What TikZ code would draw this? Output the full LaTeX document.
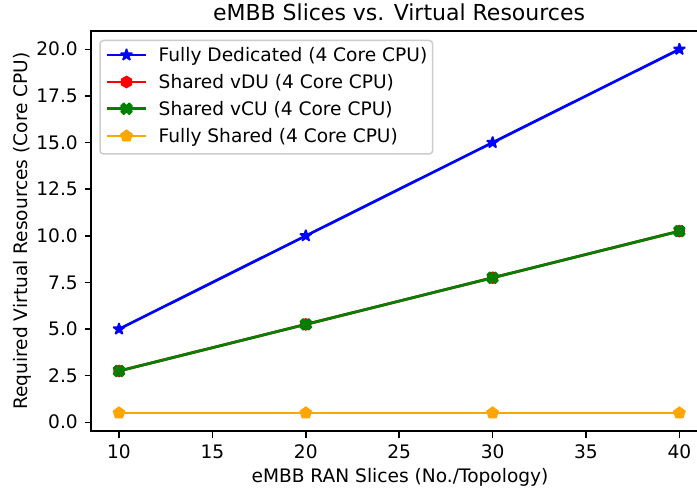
\documentclass[tikz,border=0pt]{standalone}
\usepackage{fontspec}
\setmainfont{DejaVu Sans}
\usetikzlibrary{shapes.geometric}
\definecolor{mblue}{RGB}{0,0,255}
\definecolor{mred}{RGB}{255,0,0}
\definecolor{mgreen}{RGB}{0,128,0}
\definecolor{morange}{RGB}{255,165,0}
\definecolor{legedge}{RGB}{204,204,204}
\tikzset{
  lbl/.style={font=\fontsize{18.6pt}{22pt}\selectfont, inner sep=0pt, text=black},
  ttl/.style={font=\fontsize{22pt}{26pt}\selectfont, inner sep=0pt, text=black},
  spine/.style={line width=1.46pt, black},
  tickmark/.style={line width=1.46pt, black},
  series/.style={line width=2.75pt},
  starmk/.style={star, star points=5, star point ratio=2.618, minimum size=12pt, inner sep=0pt, line width=1.6pt, line join=bevel},
  hexmk/.style={regular polygon, regular polygon sides=6, shape border rotate=30, minimum size=11pt, inner sep=0pt, line width=1.6pt},
  pentmk/.style={regular polygon, regular polygon sides=5, minimum size=11.5pt, inner sep=0pt, line width=1.6pt},
  xmk/.pic={\filldraw[line width=1.6pt, line join=round]
     (-2.75pt,-5.5pt) -- (0pt,-2.75pt) -- (2.75pt,-5.5pt) -- (5.5pt,-2.75pt) -- (2.75pt,0pt) -- (5.5pt,2.75pt) -- (2.75pt,5.5pt) -- (0pt,2.75pt) -- (-2.75pt,5.5pt) -- (-5.5pt,2.75pt) -- (-2.75pt,0pt) -- (-5.5pt,-2.75pt) -- cycle;},
  legframe/.style={draw=legedge, fill=white, fill opacity=0.8, draw opacity=1, line width=1.5pt, rounded corners=3.5pt}
}
\begin{document}
\begin{tikzpicture}[x=1pt,y=1pt]
\useasboundingbox (0,0) rectangle (697,490);
\begin{scope}
\clip (0,0) rectangle (697,490);
\begin{scope}[shift={(-67.8pt,67.7pt)}, x=18.68pt, y=18.65pt]
  % data coordinates
  \coordinate (fd1) at (10,5);   \coordinate (fd2) at (20,10);
  \coordinate (fd3) at (30,15);  \coordinate (fd4) at (40,20);
  \coordinate (du1) at (10,2.75); \coordinate (du2) at (20,5.25);
  \coordinate (du3) at (30,7.75); \coordinate (du4) at (40,10.25);
  \coordinate (fs1) at (10,0.5); \coordinate (fs2) at (20,0.5);
  \coordinate (fs3) at (30,0.5); \coordinate (fs4) at (40,0.5);
  % Fully dedicated
  \draw[series, mblue] (fd1) -- (fd2) -- (fd3) -- (fd4);
  \foreach \i in {1,...,4} \node[starmk, fill=mblue, draw=mblue] (sfd\i) at (fd\i) {};
  % Shared vDU
  \draw[series, mred] (du1) -- (du2) -- (du3) -- (du4);
  \foreach \i in {1,...,4} \node[hexmk, fill=mred, draw=mred] (sdu\i) at (du\i) {};
  % Shared vCU
  \draw[series, mgreen] (du1) -- (du2) -- (du3) -- (du4);
  \foreach \i in {1,...,4} \pic[color=mgreen] at (du\i) {xmk};
  % Fully shared
  \draw[series, morange] (fs1) -- (fs2) -- (fs3) -- (fs4);
  \foreach \i in {1,...,4} \node[pentmk, fill=morange, draw=morange] (sfs\i) at (fs\i) {};
  % spines (right spine lies outside the cropped picture)
  \coordinate (bl) at (8.5,-0.475);
  \coordinate (tl) at (8.5,20.975);
  \coordinate (br) at (41.5,-0.475);
  \coordinate (tr) at (41.5,20.975);
  \draw[spine, line cap=rect] (br) -- (bl) -- (tl) -- (tr);
  % x ticks
  \foreach \v in {10,15,...,40} {
    \draw[tickmark] (\v,-0.475) -- ++(0,-6.4pt);
    \node[lbl, anchor=base] (xt\v) at ([yshift=-27.8pt]\v,-0.475) {\v};
  }
  % y ticks
  \foreach \v/\t in {0/0.0,2.5/2.5,5/5.0,7.5/7.5,10/10.0,12.5/12.5,15/15.0,17.5/17.5,20/20.0} {
    \draw[tickmark] (8.5,\v) -- ++(-6.4pt,0);
    \node[lbl, anchor=base east] (yt\v) at ([xshift=-13pt,yshift=-6.7pt]8.5,\v) {\t};
  }
\end{scope}
\end{scope}
% title and axis labels
\node[ttl, anchor=base] (title) at (399,469) {eMBB Slices vs. Virtual Resources};
\node[lbl, anchor=base] (xlabel) at (400,7) {eMBB RAN Slices (No./Topology)};
\node[lbl, anchor=base, rotate=90] (ylabel) at (28,259) {Required Virtual Resources (Core CPU)};
% legend
\path[legframe] (100,336) rectangle (432.7,449.5);
\coordinate (la1) at (107,435);   \coordinate (lb1) at (146,435);
\coordinate (la2) at (107,408);   \coordinate (lb2) at (146,408);
\coordinate (la3) at (107,381.3); \coordinate (lb3) at (146,381.3);
\coordinate (la4) at (107,354);   \coordinate (lb4) at (146,354);
\draw[series, mblue] (la1) -- (lb1);
\node[starmk, fill=mblue, draw=mblue] (lm1) at (126.5,435) {};
\draw[series, mred] (la2) -- (lb2);
\node[hexmk, fill=mred, draw=mred] (lm2) at (126.5,408) {};
\draw[series, mgreen] (la3) -- (lb3);
\pic[color=mgreen] at (126.5,381.3) {xmk};
\draw[series, morange] (la4) -- (lb4);
\node[pentmk, fill=morange, draw=morange] (lm4) at (126.5,354) {};
\node[lbl, anchor=base west] (lt1) at (158.5,428.3) {Fully Dedicated (4 Core CPU)};
\node[lbl, anchor=base west] (lt2) at (158.5,401.3) {Shared vDU (4 Core CPU)};
\node[lbl, anchor=base west] (lt3) at (158.5,374.6) {Shared vCU (4 Core CPU)};
\node[lbl, anchor=base west] (lt4) at (158.5,347.3) {Fully Shared (4 Core CPU)};
\end{tikzpicture}
\end{document}
